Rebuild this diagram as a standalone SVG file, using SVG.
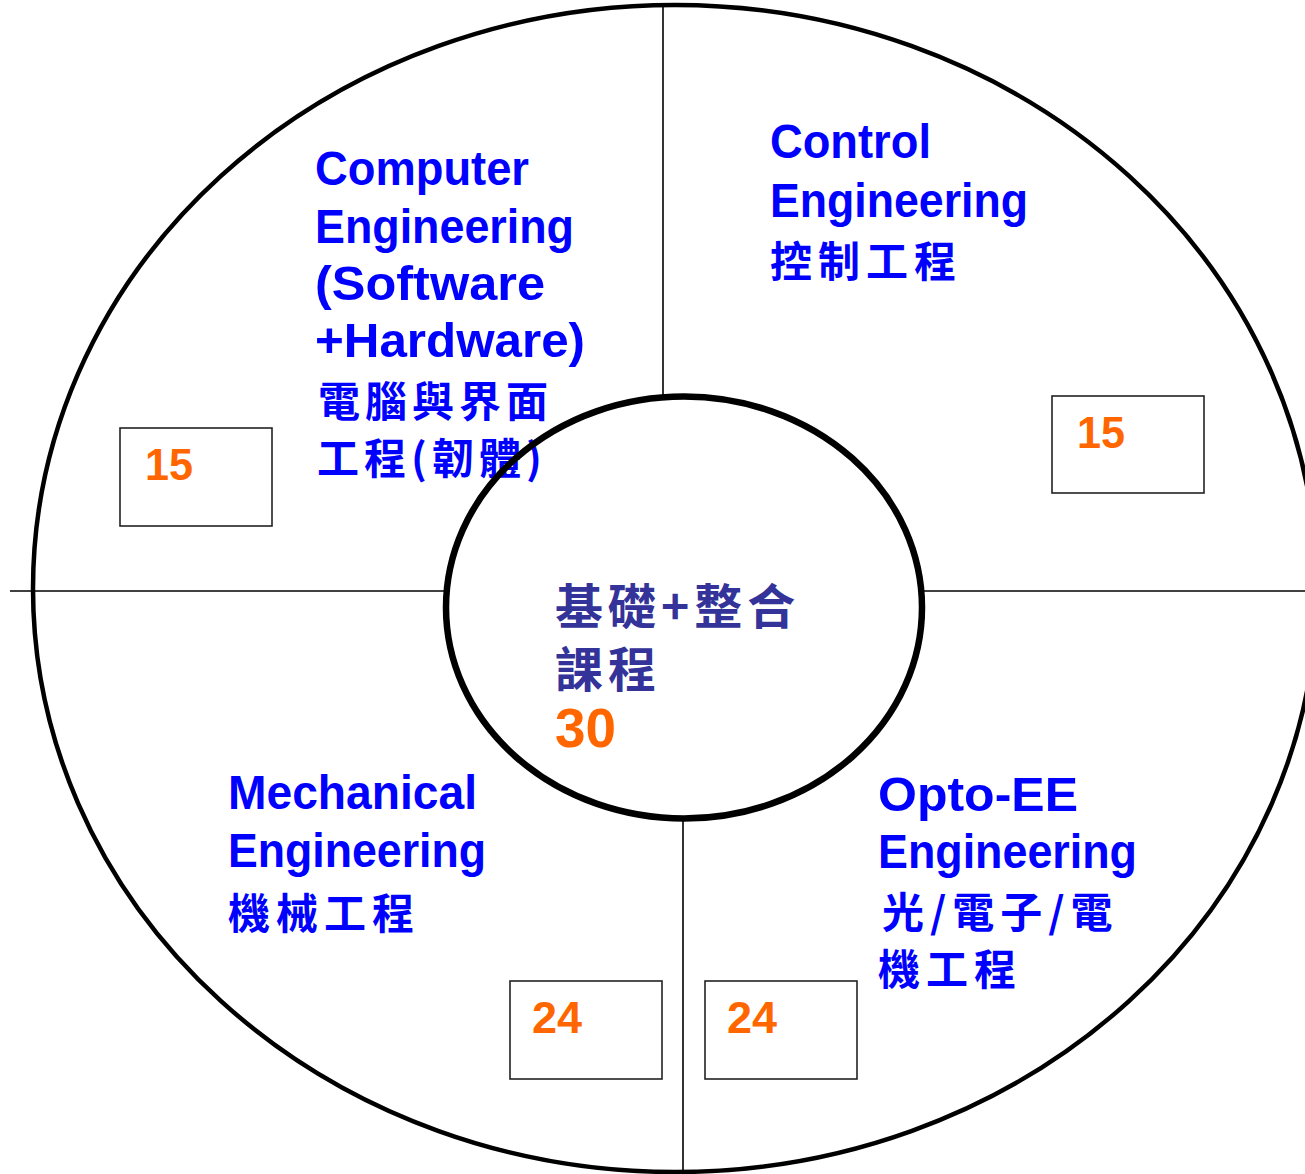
<svg xmlns="http://www.w3.org/2000/svg" width="1305" height="1174" viewBox="0 0 1305 1174">
<style>
.en{font-family:"Liberation Sans",Arial,sans-serif;font-weight:bold;font-size:49px;fill:#0000FF}
.zh{font-family:"Noto Sans CJK TC","Noto Sans CJK SC",sans-serif;font-weight:bold;font-size:42px;letter-spacing:6px;fill:#0000FF}
.zhc{font-family:"Noto Sans CJK TC","Noto Sans CJK SC",sans-serif;font-weight:bold;font-size:48px;letter-spacing:5px;fill:#333399}
.num{font-family:"Liberation Sans",Arial,sans-serif;font-weight:bold;font-size:44px;fill:#FF6600}
.box{fill:#FFFFFF;stroke:#222222;stroke-width:1.6}
.div{stroke:#000000;stroke-width:1.6;fill:none}
</style>
<rect x="0" y="0" width="1305" height="1174" fill="#FFFFFF"/>
<g id="outer-ring">
<ellipse cx="675" cy="588.5" rx="642" ry="583.5" fill="none" stroke="#000000" stroke-width="4.5"/>
</g>
<g id="connectors">
<line class="div" x1="663" y1="5" x2="663" y2="397"/>
<line class="div" x1="683" y1="818" x2="683" y2="1174"/>
<line class="div" x1="10" y1="591" x2="446" y2="591"/>
<line class="div" x1="922" y1="591" x2="1305" y2="591"/>
</g>
<g id="computer-engineering">
<text class="en" x="315" y="185" textLength="214" lengthAdjust="spacingAndGlyphs">Computer</text>
<text class="en" x="315" y="243" textLength="259" lengthAdjust="spacingAndGlyphs">Engineering</text>
<text class="en" x="315" y="300" textLength="230" lengthAdjust="spacingAndGlyphs">(Software</text>
<text class="en" x="315" y="357" textLength="270" lengthAdjust="spacingAndGlyphs">+Hardware)</text>
<text class="zh" x="318" y="417" style="letter-spacing:5px">電腦與界面</text>
<text class="zh" x="317" y="474" style="letter-spacing:5px">工程(韌體)</text>
</g>
<g id="computer-credits">
<rect class="box" x="120" y="428" width="152" height="98"/>
<text class="num" x="145" y="480" textLength="48" lengthAdjust="spacingAndGlyphs">15</text>
</g>
<g id="control-engineering">
<text class="en" x="770" y="158" textLength="161" lengthAdjust="spacingAndGlyphs">Control</text>
<text class="en" x="770" y="217" textLength="258" lengthAdjust="spacingAndGlyphs">Engineering</text>
<text class="zh" x="770" y="277">控制工程</text>
</g>
<g id="control-credits">
<rect class="box" x="1052" y="396" width="152" height="97"/>
<text class="num" x="1077" y="448" textLength="48" lengthAdjust="spacingAndGlyphs">15</text>
</g>
<g id="mechanical-engineering">
<text class="en" x="228" y="809" textLength="249" lengthAdjust="spacingAndGlyphs">Mechanical</text>
<text class="en" x="228" y="867" textLength="258" lengthAdjust="spacingAndGlyphs">Engineering</text>
<text class="zh" x="228" y="929">機械工程</text>
</g>
<g id="mechanical-credits">
<rect class="box" x="510" y="981" width="152" height="98"/>
<text class="num" x="532" y="1033" textLength="50" lengthAdjust="spacingAndGlyphs">24</text>
</g>
<g id="opto-ee-engineering">
<text class="en" x="878" y="811" textLength="200" lengthAdjust="spacingAndGlyphs">Opto-EE</text>
<text class="en" x="878" y="868" textLength="259" lengthAdjust="spacingAndGlyphs">Engineering</text>
<text class="zh" x="882" y="928">光/電子/電</text>
<text class="zh" x="878" y="985">機工程</text>
</g>
<g id="opto-ee-credits">
<rect class="box" x="705" y="981" width="152" height="98"/>
<text class="num" x="727" y="1033" textLength="50" lengthAdjust="spacingAndGlyphs">24</text>
</g>
<g id="core-courses">
<text class="zhc" x="555" y="624">基礎+整合</text>
<text class="zhc" x="555" y="687">課程</text>
<text class="num" x="555" y="747" style="font-size:55px" textLength="61" lengthAdjust="spacingAndGlyphs">30</text>
<ellipse cx="684" cy="607.5" rx="238" ry="211" fill="none" stroke="#000000" stroke-width="6.5"/>
</g>
</svg>
